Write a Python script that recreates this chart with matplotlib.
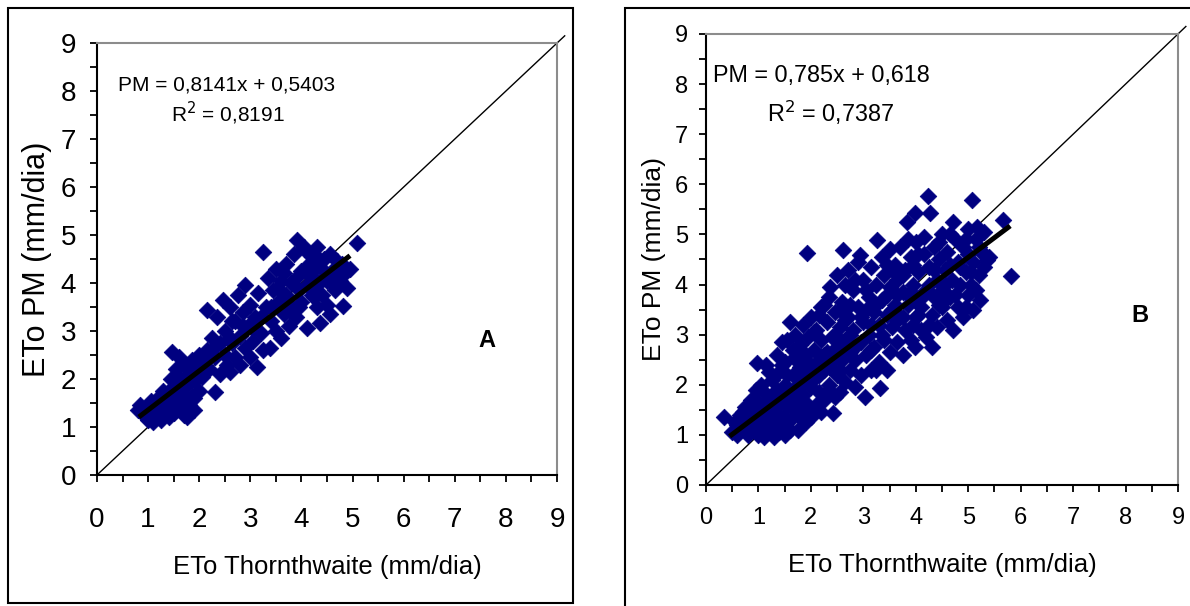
import matplotlib
matplotlib.use("Agg")
import matplotlib.pyplot as plt
from matplotlib.patches import Rectangle
from matplotlib.ticker import MultipleLocator

plt.rcParams['font.family'] = ['Liberation Sans', 'DejaVu Sans']

NAVY = '#000080'

# Panel A: ETo Thornthwaite vs ETo PM
a_x = [0.80, 0.84, 0.90, 0.95, 1.00, 1.00, 1.05, 1.10, 1.10, 1.15, 1.20, 1.20, 1.25, 1.30,
       1.30, 1.35, 1.40, 1.40, 1.45, 1.45, 1.47, 1.50, 1.50, 1.55, 1.55, 1.60, 1.60, 1.65,
       1.65, 1.70, 1.70, 1.70, 1.75, 1.76, 1.80, 1.80, 1.85, 1.85, 1.90, 1.90, 1.95, 2.00,
       2.00, 2.05, 2.10, 2.15, 2.15, 2.20, 2.25, 2.30, 2.31, 2.35, 2.40, 2.40, 2.47, 2.50,
       2.50, 2.55, 2.60, 2.60, 2.65, 2.70, 2.70, 2.75, 2.80, 2.80, 2.85, 2.90, 2.90, 2.95,
       3.00, 3.00, 3.05, 3.10, 3.13, 3.15, 3.20, 3.25, 3.25, 3.30, 3.35, 3.39, 3.40, 3.45,
       3.50, 3.50, 3.55, 3.60, 3.60, 3.65, 3.70, 3.70, 3.75, 3.80, 3.80, 3.85, 3.90, 3.91,
       3.95, 4.00, 4.00, 4.05, 4.05, 4.10, 4.11, 4.15, 4.20, 4.20, 4.20, 4.25, 4.30, 4.30,
       4.30, 4.36, 4.40, 4.40, 4.45, 4.50, 4.50, 4.56, 4.60, 4.65, 4.70, 4.75, 4.81, 4.85,
       4.90, 4.95, 5.09,
       1.00, 1.15, 1.30, 1.60, 1.75, 1.90, 2.00, 2.20, 2.35, 2.60, 2.65, 2.85, 3.05, 3.20,
       3.40, 3.55, 3.65, 3.75, 3.90, 3.95, 4.10, 4.25, 4.45, 4.60, 4.70, 4.30, 4.80, 4.55]
a_y = [1.35, 1.46, 1.30, 1.20, 1.40, 1.15, 1.55, 1.25, 1.10, 1.45, 1.30, 1.60, 1.15, 1.50,
       1.75, 1.35, 1.20, 1.65, 1.45, 2.00, 2.56, 1.30, 1.85, 1.55, 2.20, 1.40, 2.45, 1.70,
       2.00, 1.25, 1.55, 2.30, 1.85, 1.21, 2.10, 1.45, 1.65, 2.40, 1.95, 1.35, 2.20, 1.75,
       2.50, 2.05, 2.35, 2.60, 3.44, 2.20, 2.85, 2.45, 1.73, 3.30, 2.10, 2.75, 3.65, 2.50,
       3.00, 2.30, 3.50, 2.15, 2.75, 3.20, 2.45, 3.75, 2.90, 2.30, 3.40, 2.65, 3.95, 3.10,
       2.45, 3.55, 2.80, 3.30, 2.25, 3.80, 2.95, 4.65, 2.60, 3.50, 4.10, 2.65, 3.20, 3.85,
       3.00, 4.30, 3.60, 2.85, 4.05, 3.35, 4.40, 3.75, 3.10, 4.00, 3.50, 4.60, 3.30, 4.90,
       3.85, 4.25, 3.60, 4.70, 4.75, 3.95, 3.06, 4.40, 3.75, 4.15, 4.55, 4.60, 3.50, 3.95,
       4.35, 3.17, 4.30, 3.75, 4.50, 4.05, 3.55, 3.35, 4.25, 3.85, 4.45, 4.05, 3.52, 4.20,
       3.90, 4.30, 4.83,
       1.25, 1.30, 1.35, 1.60, 1.60, 1.60, 2.10, 2.45, 2.70, 2.85, 3.20, 3.10, 3.05, 3.30,
       3.50, 3.90, 4.20, 3.55, 4.10, 3.50, 4.20, 3.70, 4.10, 4.00, 4.20, 4.75, 4.40, 4.60]

# Panel B
b_x = [0.35, 0.50, 0.55, 0.60, 0.65, 0.70, 0.75, 0.80, 0.80, 0.85, 0.90, 0.90, 0.95, 0.97,
       1.00, 1.00, 1.00, 1.05, 1.10, 1.10, 1.10, 1.15, 1.20, 1.20, 1.20, 1.25, 1.30, 1.30,
       1.30, 1.35, 1.35, 1.40, 1.40, 1.40, 1.45, 1.45, 1.50, 1.50, 1.50, 1.50, 1.55, 1.55,
       1.60, 1.60, 1.60, 1.65, 1.65, 1.70, 1.70, 1.70, 1.75, 1.75, 1.80, 1.80, 1.80, 1.85,
       1.85, 1.90, 1.90, 1.90, 1.93, 1.95, 1.95, 2.00, 2.00, 2.00, 2.00, 2.05, 2.10, 2.10,
       2.10, 2.15, 2.15, 2.20, 2.20, 2.20, 2.25, 2.25, 2.30, 2.30, 2.35, 2.35, 2.37, 2.40,
       2.40, 2.42, 2.45, 2.45, 2.50, 2.50, 2.50, 2.55, 2.55, 2.60, 2.60, 2.61, 2.65, 2.65,
       2.70, 2.70, 2.75, 2.75, 2.80, 2.80, 2.85, 2.85, 2.90, 2.90, 2.94, 2.95, 2.95, 3.00,
       3.00, 3.03, 3.05, 3.10, 3.10, 3.15, 3.15, 3.20, 3.20, 3.25, 3.26, 3.30, 3.30, 3.32,
       3.35, 3.35, 3.40, 3.40, 3.45, 3.45, 3.50, 3.50, 3.50, 3.55, 3.60, 3.60, 3.65, 3.65,
       3.70, 3.70, 3.75, 3.75, 3.80, 3.80, 3.84, 3.85, 3.90, 3.90, 3.95, 3.99, 3.99, 4.00,
       4.00, 4.00, 4.05, 4.10, 4.10, 4.15, 4.20, 4.20, 4.24, 4.25, 4.27, 4.30, 4.31, 4.35,
       4.35, 4.40, 4.40, 4.45, 4.50, 4.50, 4.50, 4.55, 4.60, 4.60, 4.65, 4.70, 4.71, 4.71,
       4.75, 4.80, 4.80, 4.85, 4.90, 4.90, 4.95, 5.00, 5.00, 5.00, 5.05, 5.08, 5.10, 5.10,
       5.15, 5.17, 5.20, 5.23, 5.25, 5.30, 5.30, 5.36, 5.40, 5.67, 5.82,
       0.60, 0.70, 0.85, 0.90, 1.05, 1.05, 1.15, 1.20, 1.25, 1.25, 1.35, 1.35, 1.45, 1.45,
       1.55, 1.55, 1.65, 1.65, 1.75, 1.75, 1.85, 1.85, 1.95, 2.05, 2.05, 2.15, 2.15, 2.25,
       2.25, 2.35, 2.35, 2.45, 2.45, 2.55, 2.55, 2.65, 2.65, 2.75, 2.75, 2.85, 2.85, 2.95,
       3.05, 3.05, 3.15, 3.15, 3.25, 3.25, 3.35, 3.45, 3.45, 3.55, 3.55, 3.65, 3.65, 3.75,
       3.75, 3.85, 3.85, 3.95, 3.95, 4.05, 4.05, 4.15, 4.15, 4.25, 4.25, 4.35, 4.45, 4.45,
       4.55, 4.55, 4.65, 4.65, 4.75, 4.85, 4.95, 4.95, 5.05, 5.15, 5.20, 5.30]
b_y = [1.35, 1.05, 1.25, 1.00, 1.40, 1.15, 1.55, 1.00, 1.30, 1.70, 1.15, 1.45, 1.90, 2.43,
       1.00, 1.30, 1.65, 1.50, 0.95, 1.20, 1.85, 2.40, 1.05, 1.40, 1.70, 2.10, 0.95, 1.25,
       1.55, 1.90, 2.60, 1.05, 1.40, 2.25, 1.70, 2.85, 1.00, 1.30, 2.00, 2.45, 1.55, 2.89,
       1.10, 1.85, 3.25, 2.20, 1.35, 2.55, 1.65, 3.00, 1.10, 2.00, 1.45, 2.35, 2.80, 1.80,
       3.20, 1.25, 2.15, 2.60, 4.63, 1.60, 2.95, 1.95, 2.40, 3.35, 1.35, 2.70, 1.60, 2.15,
       3.10, 1.85, 2.50, 2.90, 3.55, 1.45, 2.30, 1.70, 2.65, 3.25, 2.00, 3.75, 3.95, 2.45,
       2.95, 1.44, 1.75, 3.45, 2.20, 2.75, 4.20, 3.15, 1.85, 2.50, 3.65, 4.69, 2.05, 2.90,
       3.35, 4.30, 2.30, 2.65, 3.90, 3.10, 1.95, 2.50, 3.55, 4.45, 4.59, 2.85, 2.20, 3.25,
       4.10, 1.76, 2.60, 3.00, 3.75, 2.30, 4.35, 3.45, 2.75, 4.00, 4.89, 3.20, 2.45, 1.94,
       3.70, 4.55, 2.90, 4.20, 3.40, 2.30, 3.95, 2.65, 4.70, 3.15, 3.60, 4.40, 2.85, 4.10,
       3.35, 4.75, 3.85, 2.60, 4.30, 3.10, 5.25, 3.60, 4.55, 2.90, 4.00, 2.75, 5.43, 3.35,
       4.85, 3.75, 4.25, 3.10, 3.55, 4.60, 3.90, 2.95, 5.77, 4.35, 5.43, 3.40, 2.75, 4.75,
       3.75, 4.10, 3.15, 4.50, 3.55, 5.00, 3.90, 4.30, 3.30, 4.65, 3.75, 4.10, 5.25, 3.09,
       4.90, 3.55, 4.45, 4.00, 4.75, 3.35, 4.25, 3.80, 4.60, 5.10, 4.00, 5.69, 4.45, 3.50,
       4.90, 5.15, 4.20, 3.69, 4.65, 5.05, 4.35, 4.49, 4.55, 5.29, 4.17,
       1.20, 1.45, 1.10, 1.65, 1.15, 2.00, 1.60, 2.25, 1.30, 1.80, 1.15, 1.60, 1.20, 2.40,
       1.25, 2.20, 1.55, 2.70, 1.40, 2.45, 1.30, 2.60, 2.25, 1.50, 3.05, 2.20, 3.40, 2.60,
       3.60, 2.35, 1.90, 2.60, 3.00, 2.30, 3.50, 3.30, 4.00, 3.00, 3.60, 2.75, 4.10, 3.35,
       3.50, 3.90, 2.70, 3.20, 3.60, 2.30, 3.00, 3.80, 4.40, 3.50, 4.30, 3.30, 3.80, 4.20,
       3.35, 3.80, 4.90, 3.20, 4.40, 3.40, 4.60, 3.80, 4.95, 3.20, 4.00, 4.30, 3.60, 4.85,
       3.70, 4.00, 4.40, 5.00, 3.80, 4.35, 3.55, 4.90, 4.25, 3.90, 4.75, 4.60]

# fitted lines printed on the chart, and the x span they cover
a_slope, a_icept, a_span = 0.8141, 0.5403, [0.82, 4.95]
b_slope, b_icept, b_span = 0.785, 0.618, [0.45, 5.80]
one_to_one = [0, 9.15]
ticks = list(range(10))


def panel(ax, xs, ys, slope, icept, span, eq, r2, letter, fs_tick, fs_x, fs_y, pads,
          eq_pos, r2_pos, eq_fs, letter_pos):
    ax.set_xlim(0, 9)
    ax.set_ylim(0, 9)
    ax.plot(one_to_one, one_to_one, color='black', lw=1.0, clip_on=False, zorder=1)
    ax.scatter(xs, ys, marker='D', s=72, color=NAVY, edgecolors=NAVY, linewidths=0.5, zorder=2)
    ax.plot(span, [slope * v + icept for v in span], color='black', lw=3.6,
            solid_capstyle='butt', zorder=3)
    ax.set_xticks(ticks)
    ax.set_yticks(ticks)
    ax.xaxis.set_minor_locator(MultipleLocator(0.5))
    ax.yaxis.set_minor_locator(MultipleLocator(0.5))
    ax.tick_params(which='both', direction='out', length=5, width=1.3, colors='black')
    ax.tick_params(axis='x', which='major', labelsize=fs_tick, pad=pads[0])
    ax.tick_params(axis='y', which='major', labelsize=fs_tick, pad=pads[1])
    for side in ('left', 'bottom'):
        ax.spines[side].set_linewidth(1.5)
        ax.spines[side].set_color('black')
    for side in ('top', 'right'):
        ax.spines[side].set_linewidth(1.5)
        ax.spines[side].set_color('#8c8c8c')
    ax.set_xlabel('ETo Thornthwaite (mm/dia)', fontsize=fs_x, labelpad=pads[2])
    ax.set_ylabel('ETo PM (mm/dia)', fontsize=fs_y, labelpad=pads[3])
    ax.text(eq_pos[0], eq_pos[1], eq, fontsize=eq_fs, va='center', ha='left')
    ax.text(r2_pos[0], r2_pos[1], r2, fontsize=eq_fs, va='center', ha='left')
    ax.text(letter_pos[0], letter_pos[1], letter, fontsize=17, fontweight='bold',
            va='center', ha='center')


fig = plt.figure(figsize=(11.9, 6.06), dpi=100)

# outer frames around each panel
fig.patches.append(Rectangle((0.0067, 0.005), 0.4748, 0.982, transform=fig.transFigure,
                             fill=False, edgecolor='black', lw=1.5))
fig.patches.append(Rectangle((0.5252, -0.02), 0.5, 1.007, transform=fig.transFigure,
                             fill=False, edgecolor='black', lw=1.5))

ax_a = fig.add_axes([0.0815, 0.2162, 0.3866, 0.7128])
panel(ax_a, a_x, a_y, a_slope, a_icept, a_span,
      'PM = 0,8141x + 0,5403', r'R$^2$ = 0,8191', 'A',
      fs_tick=20, fs_x=18.5, fs_y=22, pads=(18, 10, 16, 6),
      eq_pos=(0.42, 8.12), r2_pos=(1.45, 7.54), eq_fs=15, letter_pos=(7.63, 2.81))

ax_b = fig.add_axes([0.5933, 0.1997, 0.3966, 0.7442])
panel(ax_b, b_x, b_y, b_slope, b_icept, b_span,
      'PM = 0,785x + 0,618', r'R$^2$ = 0,7387', 'B',
      fs_tick=17, fs_x=18.5, fs_y=19, pads=(11, 8, 17, 6),
      eq_pos=(0.13, 8.18), r2_pos=(1.16, 7.43), eq_fs=16.8, letter_pos=(8.28, 3.39))

fig.savefig('out.png', dpi=100)
